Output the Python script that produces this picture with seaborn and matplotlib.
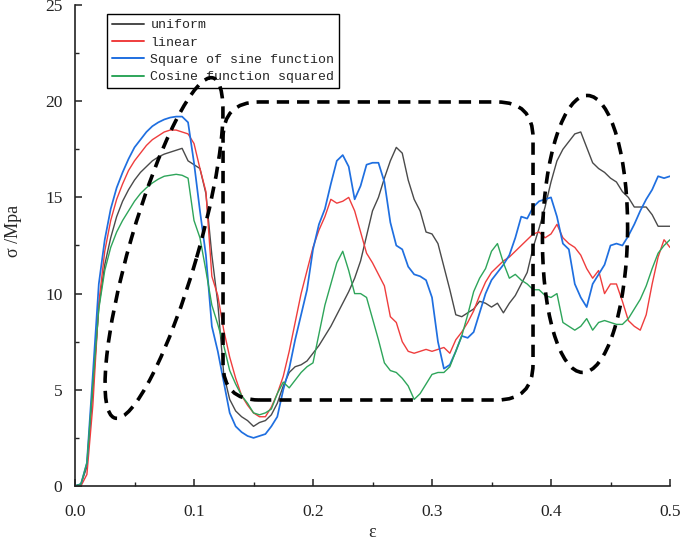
import numpy as np
import pandas as pd
import matplotlib
matplotlib.use("Agg")
import matplotlib.pyplot as plt
import matplotlib.transforms as mtransforms
from matplotlib.patches import Ellipse, FancyBboxPatch
from matplotlib.ticker import MultipleLocator
import seaborn as sns

# ---------------- data ----------------
eps = np.round(np.arange(101) * 0.005, 3)

uniform = [0, 0.1, 1.0, 5.0, 9.3, 11.5, 12.9, 14.0, 14.8, 15.4,
           15.9, 16.3, 16.6, 16.9, 17.1, 17.25, 17.35, 17.45, 17.55, 16.9,
           16.7, 16.5, 15.2, 12.0, 9.5, 5.8, 4.5, 3.9, 3.6, 3.4,
           3.1, 3.3, 3.4, 3.7, 4.3, 5.2, 5.9, 6.2, 6.3, 6.5,
           6.9, 7.3, 7.8, 8.3, 8.9, 9.5, 10.1, 10.8, 11.7, 13.0,
           14.3, 15.0, 16.0, 16.9, 17.6, 17.3, 15.9, 14.9, 14.3, 13.2,
           13.1, 12.6, 11.4, 10.2, 8.9, 8.8, 9.0, 9.2, 9.6, 9.5,
           9.3, 9.5, 9.0, 9.5, 9.9, 10.5, 11.1, 12.4, 13.4, 14.5,
           15.8, 16.9, 17.5, 17.9, 18.3, 18.4, 17.6, 16.8, 16.5, 16.3,
           16.0, 15.8, 15.3, 15.0, 14.5, 14.5, 14.5, 14.1, 13.5, 13.5,
           13.5]

linear = [0, 0.0, 0.6, 4.2, 9.5, 12.2, 13.8, 14.9, 15.7, 16.4,
          16.9, 17.3, 17.7, 18.0, 18.2, 18.4, 18.5, 18.5, 18.4, 18.3,
          17.8, 16.5, 15.3, 10.9, 9.9, 8.1, 6.7, 5.6, 4.7, 4.2,
          3.8, 3.6, 3.6, 4.1, 4.8, 5.7, 7.0, 8.5, 10.0, 11.2,
          12.4, 13.3, 14.0, 14.9, 14.7, 14.8, 15.0, 14.3, 13.2, 12.1,
          11.6, 11.0, 10.4, 8.8, 8.5, 7.5, 7.0, 6.9, 7.0, 7.1,
          7.0, 7.1, 7.2, 6.9, 7.6, 8.0, 8.5, 9.1, 9.9, 10.6,
          11.1, 11.4, 11.7, 11.9, 12.2, 12.5, 12.8, 13.1, 13.2, 12.9,
          13.1, 13.6, 12.9, 12.6, 12.4, 12.0, 11.3, 10.8, 11.2, 10.0,
          10.5, 10.5, 9.6, 8.6, 8.3, 8.1, 8.9, 10.5, 11.9, 12.8,
          12.4]

sine_sq = [0, 0.1, 1.2, 5.8, 10.5, 12.8, 14.4, 15.5, 16.3, 17.0,
           17.6, 18.0, 18.4, 18.7, 18.9, 19.05, 19.15, 19.2, 19.2, 18.9,
           16.8, 14.3, 12.0, 8.3, 7.0, 5.4, 3.8, 3.1, 2.8, 2.6,
           2.5, 2.6, 2.7, 3.1, 3.6, 5.0, 6.1, 7.6, 8.9, 10.2,
           12.3, 13.6, 14.4, 15.7, 16.9, 17.2, 16.6, 14.9, 15.6, 16.7,
           16.8, 16.8, 15.8, 13.7, 12.5, 12.3, 11.4, 11.0, 10.9, 10.7,
           9.8, 7.5, 6.1, 6.3, 7.0, 7.8, 7.7, 8.0, 9.0, 10.0,
           10.7, 11.1, 11.5, 12.0, 12.9, 14.0, 13.9, 14.5, 14.8, 14.9,
           15.0, 14.0, 12.6, 12.3, 10.5, 9.8, 9.3, 10.5, 11.0, 11.5,
           12.5, 12.6, 12.5, 13.0, 13.6, 14.3, 14.9, 15.4, 16.1, 16.0,
           16.1]

cosine_sq = [0, 0.1, 1.2, 5.3, 9.2, 11.2, 12.4, 13.2, 13.8, 14.3,
             14.8, 15.2, 15.5, 15.75, 15.95, 16.1, 16.15, 16.2, 16.15, 16.0,
             13.8, 12.9, 11.2, 9.4, 8.4, 7.3, 6.0, 5.3, 4.7, 4.3,
             3.8, 3.7, 3.8, 4.0, 4.8, 5.4, 5.1, 5.5, 5.9, 6.2,
             6.4, 7.9, 9.4, 10.5, 11.6, 12.2, 11.2, 10.0, 10.0, 9.8,
             8.7, 7.6, 6.4, 6.0, 5.9, 5.6, 5.2, 4.5, 4.8, 5.3,
             5.8, 5.9, 5.9, 6.2, 7.0, 7.8, 8.9, 10.1, 10.8, 11.3,
             12.2, 12.6, 11.6, 10.8, 11.0, 10.7, 10.5, 10.2, 10.2, 9.9,
             9.8, 10.0, 8.5, 8.3, 8.1, 8.3, 8.7, 8.1, 8.5, 8.6,
             8.5, 8.4, 8.4, 8.7, 9.2, 9.7, 10.4, 11.3, 12.1, 12.5,
             12.8]

series_names = ["uniform", "linear", "Square of sine function", "Cosine function squared"]
series_colors = ["#4a4a4a", "#ef3d3d", "#1f6fe0", "#2ea55a"]
x_ticks = [0.0, 0.1, 0.2, 0.3, 0.4, 0.5]
x_tick_labels = ["0.0", "0.1", "0.2", "0.3", "0.4", "0.5"]
y_ticks = [0, 5, 10, 15, 20, 25]

df = pd.concat([
    pd.DataFrame({"eps": eps, "sigma": vals, "series": name})
    for name, vals in zip(series_names, [uniform, linear, sine_sq, cosine_sq])
], ignore_index=True)

# ---------------- figure ----------------
sns.set_theme(style="ticks")
plt.rcParams["font.family"] = ["Liberation Serif", "DejaVu Serif"]

fig = plt.figure(figsize=(6.85, 5.45), dpi=100)
ax = fig.add_axes([75 / 685, 59 / 545, 595 / 685, 481 / 545])

sns.lineplot(data=df, x="eps", y="sigma", hue="series", hue_order=series_names,
             palette=dict(zip(series_names, series_colors)), estimator=None,
             sort=False, linewidth=1.0, ax=ax)
for ln in ax.lines:
    if ln.get_color() == series_colors[2]:
        ln.set_linewidth(1.25)

ax.set_xlim(0, 0.5)
ax.set_ylim(0, 25)
ax.set_xticks(x_ticks)
ax.set_xticklabels(x_tick_labels)
ax.set_yticks(y_ticks)
ax.xaxis.set_minor_locator(MultipleLocator(0.05))
ax.yaxis.set_minor_locator(MultipleLocator(2.5))
ax.tick_params(which="major", direction="in", length=5, width=1.1,
               labelsize=12.5, colors="#222222")
ax.tick_params(axis="x", which="major", pad=13)
ax.tick_params(axis="y", which="major", pad=9)
ax.tick_params(which="minor", direction="in", length=3, width=1.0, colors="#222222")
for s in ["top", "right"]:
    ax.spines[s].set_visible(False)
for s in ["left", "bottom"]:
    ax.spines[s].set_linewidth(1.2)
    ax.spines[s].set_color("#222222")

ax.set_xlabel("ε", fontsize=13)
ax.set_ylabel("σ /Mpa", fontsize=13)
ax.xaxis.set_label_coords(0.5, -0.08)
ax.yaxis.set_label_coords(-0.089, 0.53)

# legend
handles, labels = ax.get_legend_handles_labels()
leg = ax.legend(handles, labels, loc="upper left", bbox_to_anchor=(0.054, 0.981),
                borderaxespad=0, frameon=True, fancybox=False, framealpha=1,
                edgecolor="black", prop={"family": "Liberation Mono", "size": 9.5},
                handlelength=2.4, handletextpad=0.5, labelspacing=0.38,
                borderpad=0.38)
leg.get_frame().set_linewidth(1.0)
for h in leg.get_lines():
    h.set_linewidth(1.4)

# ---------------- dashed annotation shapes ----------------
dash = (0, (3.4, 2.2))
ann_kw = dict(fill=False, edgecolor="black", linewidth=2.6, linestyle=dash,
              zorder=6, clip_on=False)

# tilted ellipse around first peak
t1 = fig.dpi_scale_trans + mtransforms.ScaledTranslation(0.0748, 12.37, ax.transData)
ax.add_patch(Ellipse((0, 0), width=3.54, height=0.68, angle=73.9, transform=t1, **ann_kw))

# ellipse around the last peak
t2 = fig.dpi_scale_trans + mtransforms.ScaledTranslation(0.4286, 13.1, ax.transData)
ax.add_patch(Ellipse((0, 0), width=2.77, height=0.85, angle=89.0, transform=t2, **ann_kw))

# rounded rectangle around the middle region
p0 = ax.transData.transform((0, 0))
p1 = ax.transData.transform((1, 1))
sx, sy = p1[0] - p0[0], p1[1] - p0[1]
aspect = sx / sy
r = 36 / sx
x0, x1, y0, y1 = 0.1244, 0.3849, 4.47, 19.96
ax.add_patch(FancyBboxPatch((x0, y0), x1 - x0, y1 - y0,
                            boxstyle=f"round,pad=0,rounding_size={r}",
                            mutation_aspect=aspect, **ann_kw))

fig.savefig("out.png", dpi=100)
